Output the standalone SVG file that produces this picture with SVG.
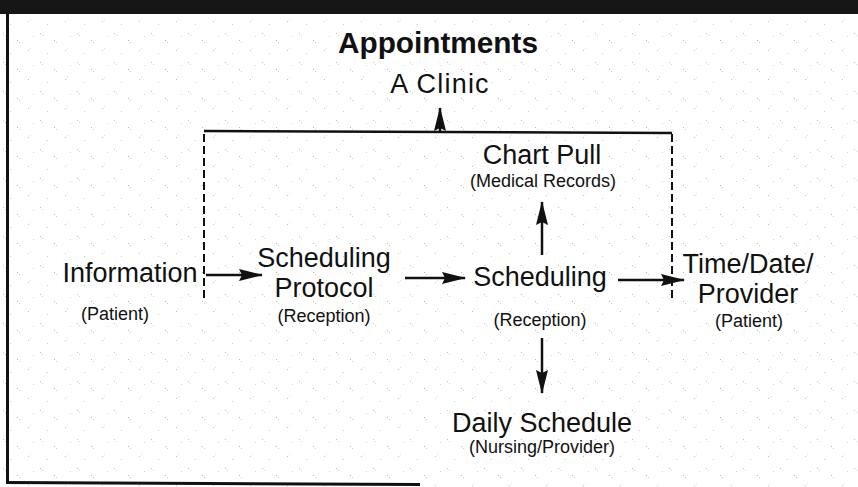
<svg xmlns="http://www.w3.org/2000/svg" width="858" height="487" viewBox="0 0 858 487">
<defs>
<style>
.t{font-family:"Liberation Sans",Arial,Helvetica,sans-serif;fill:#111;text-anchor:middle}
.big{font-size:27px}
.title{font-size:30px;font-weight:bold}
.sub{font-size:18px}
.ln{stroke:#111;stroke-width:2.5;fill:none}
.dash{stroke:#111;stroke-width:2;fill:none;stroke-dasharray:8 4}
</style>
<marker id="ah" viewBox="0 0 24 14" refX="23" refY="7" markerWidth="24" markerHeight="14" markerUnits="userSpaceOnUse" orient="auto">
<path d="M0,1 L24,7 L0,13 L3,7 Z" fill="#111"/>
</marker>
<pattern id="speck" width="37" height="29" patternUnits="userSpaceOnUse">
<rect x="3" y="4" width="1" height="1" fill="#999"/>
<rect x="5" y="6" width="1" height="1" fill="#bbb"/>
<rect x="17" y="11" width="1" height="1" fill="#888"/>
<rect x="19" y="13" width="1" height="1" fill="#aaa"/>
<rect x="28" y="21" width="1" height="1" fill="#999"/>
<rect x="30" y="19" width="1" height="1" fill="#ccc"/>
<rect x="10" y="24" width="1" height="1" fill="#aaa"/>
<rect x="33" y="7" width="1" height="1" fill="#bbb"/>
</pattern>
</defs>
<rect width="858" height="487" fill="#fff"/>
<rect width="858" height="487" fill="url(#speck)" opacity="0.6"/>
<rect x="0" y="0" width="858" height="14" fill="#161616"/>
<line x1="7.5" y1="14" x2="7.5" y2="484" stroke="#111" stroke-width="3"/>
<line x1="6" y1="482.5" x2="420" y2="484.5" stroke="#111" stroke-width="3"/>

<g id="title">
<text class="t title" x="438" y="53" textLength="200" lengthAdjust="spacingAndGlyphs">Appointments</text>
<text class="t big" x="440" y="93" letter-spacing="1.2">A Clinic</text>
</g>
<g id="information">
<text class="t big" x="130" y="282">Information</text>
<text class="t sub" x="115" y="320">(Patient)</text>
</g>
<g id="protocol">
<text class="t big" x="324" y="267">Scheduling</text>
<text class="t big" x="324" y="297">Protocol</text>
<text class="t sub" x="324" y="322">(Reception)</text>
</g>
<g id="scheduling">
<text class="t big" x="540" y="286">Scheduling</text>
<text class="t sub" x="540" y="326">(Reception)</text>
</g>
<g id="chartpull">
<text class="t big" x="542" y="164">Chart Pull</text>
<text class="t sub" x="543" y="187">(Medical Records)</text>
</g>
<g id="timedate">
<text class="t big" x="748" y="273">Time/Date/</text>
<text class="t big" x="748" y="303">Provider</text>
<text class="t sub" x="749" y="327">(Patient)</text>
</g>
<g id="daily">
<text class="t big" x="542" y="432">Daily Schedule</text>
<text class="t sub" x="542" y="453">(Nursing/Provider)</text>
</g>

<g id="connectors">
<path class="dash" d="M204,298 L204,131"/>
<path class="dash" d="M672,298 L672,133"/>
<path class="ln" d="M204,131 L672,133" stroke-width="2"/>
<path class="ln" d="M440,131 L440,108" marker-end="url(#ah)"/>
<path class="ln" d="M206,275 L262,275" marker-end="url(#ah)"/>
<path class="ln" d="M405,278 L465,278" marker-end="url(#ah)"/>
<path class="ln" d="M618,280 L684,280" marker-end="url(#ah)"/>
<path class="ln" d="M542,255 L542,202" marker-end="url(#ah)"/>
<path class="ln" d="M542,338 L542,393" marker-end="url(#ah)"/>
</g>
</svg>
